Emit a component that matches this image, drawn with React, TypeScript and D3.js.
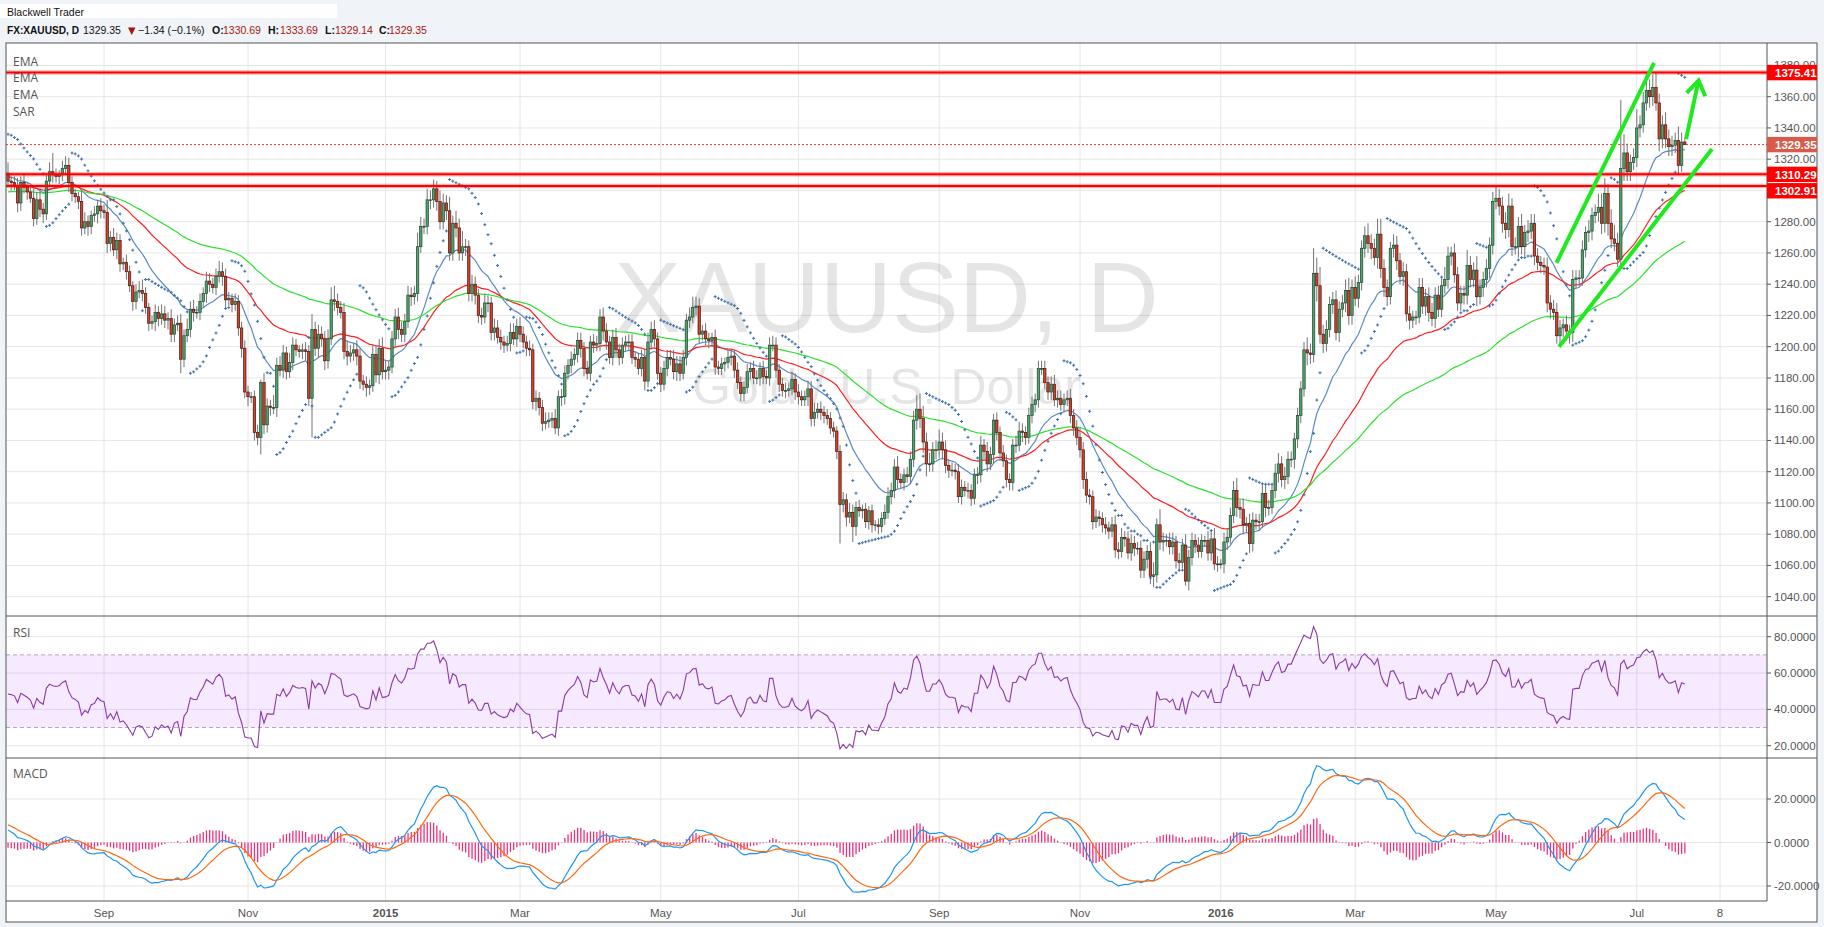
import React from "react";
import * as d3 from "d3";

// ---------- DATA ----------
const firstOpen = 1311;

// daily closes, Jul 21 2014 .. Jul 22 2016 (weekdays)
const closes: number[] = [
  // Jul 2014
  1306,1305,1303,1292,1305,1302,1299,1295,1282,
  // Aug
  1294,1288,1285,1306,1312,1310,1309,1310,1314,1316,1305,1298,1296,1293,1276,1280,1277,1284,1285,1290,1287,
  // Sep
  1286,1266,1270,1262,1268,1253,1254,1248,1239,1229,1235,1236,1234,1225,1215,1216,1222,1218,1221,1217,1218,1208,
  // Oct
  1214,1215,1192,1207,1211,1224,1222,1222,1229,1234,1242,1240,1238,1245,1248,1245,1230,1231,1227,1229,1212,1199,1171,
  // Nov
  1168,1168,1145,1142,1177,1150,1162,1161,1161,1188,1185,1196,1184,1190,1201,1198,1197,1198,1197,1167,
  // Dec
  1211,1199,1208,1205,1191,1205,1230,1229,1225,1222,1197,1194,1196,1198,1194,1178,1176,1174,1175,1195,1182,1199,1184,
  // Jan 2015
  1185,1187,1205,1219,1211,1208,1216,1233,1232,1234,1264,1277,1277,1294,1294,1301,1293,1280,1292,1287,1260,1279,
  // Feb
  1276,1260,1264,1264,1234,1240,1233,1220,1219,1228,1228,1209,1212,1206,1203,1201,1202,1209,1205,1213,
  // Mar
  1208,1203,1199,1198,1165,1167,1161,1151,1152,1153,1154,1148,1168,1168,1183,1188,1192,1195,1204,1199,1186,1183,
  // Apr
  1203,1201,1202,1219,1210,1203,1193,1206,1198,1193,1201,1203,1203,1193,1192,1186,1193,1178,1203,1211,1205,1183,
  // May
  1176,1186,1193,1192,1184,1189,1183,1193,1217,1219,1225,1226,1208,1210,1205,1204,1206,1187,1186,1189,1190,
  // Jun
  1193,1194,1185,1177,1170,1174,1184,1186,1180,1180,1186,1181,1180,1201,1201,1185,1176,1172,1172,1173,1179,1171,
  // Jul
  1168,1166,1168,1173,1154,1158,1160,1158,1156,1154,1148,1146,1133,1099,1102,1091,1094,1085,1097,1095,1096,1088,1095,
  // Aug
  1086,1086,1085,1090,1094,1104,1108,1123,1115,1113,1118,1117,1128,1153,1160,1154,1139,1125,1125,1134,1134,
  // Sep
  1139,1134,1124,1121,1121,1120,1104,1110,1108,1108,1103,1118,1118,1137,1133,1125,1131,1153,1145,1132,1127,1115,
  // Oct
  1113,1137,1137,1146,1145,1142,1156,1163,1166,1186,1186,1177,1171,1176,1166,1167,1163,1166,1167,1156,1148,1142,
  // Nov
  1134,1115,1105,1104,1088,1091,1090,1086,1084,1082,1086,1070,1069,1078,1077,1068,1074,1071,1071,1057,1064,
  // Dec
  1069,1053,1054,1086,1075,1076,1076,1072,1075,1063,1062,1073,1050,1065,1076,1073,1069,1076,1076,1068,1077,1061,1061,
  // Jan 2016
  1061,1075,1078,1092,1108,1097,1096,1086,1087,1074,1089,1088,1088,1106,1097,1097,1108,1119,1125,1115,1117,
  // Feb
  1128,1128,1141,1156,1173,1198,1196,1195,1247,1239,1208,1202,1211,1227,1230,1209,1224,1228,1236,1220,1238,
  // Mar
  1231,1241,1263,1271,1266,1263,1257,1272,1250,1238,1232,1263,1265,1255,1245,1248,1221,1217,1219,1219,1238,1226,1232,
  // Apr
  1222,1218,1233,1224,1239,1243,1258,1260,1246,1228,1234,1233,1252,1243,1249,1232,1238,1243,1250,1265,1293,
  // May
  1295,1290,1279,1275,1290,1264,1264,1277,1264,1273,1274,1279,1258,1254,1252,1251,1228,1224,1222,1207,1212,1214,
  // Jun
  1210,1209,1243,1244,1244,1262,1273,1274,1284,1286,1289,1279,1298,1279,1269,1266,1256,1314,1324,1312,1318,1321,
  // Jul
  1340,1342,1356,1364,1360,1366,1356,1333,1342,1333,1328,1329,1332,1316,1331,1329.35,
];

// upper wick length above the body, per candle
const wickUp: number[] = [
  7,3,4,5,4,6,3,4,6,
  5,6,4,4,6,12,4,3,5,6,5,4,3,3,7,6,4,3,5,4,5,
  4,8,4,6,5,4,3,5,4,3,5,6,7,4,3,4,5,4,6,5,4,6,
  4,5,6,4,7,5,6,4,5,4,6,5,4,5,7,6,5,4,3,5,4,4,5,
  4,3,4,5,2,6,5,4,8,5,6,5,4,6,5,4,3,4,5,4,
  10,5,6,5,5,6,8,9,5,4,6,7,5,4,6,5,4,5,4,6,5,6,7,
  6,4,5,5,6,5,5,6,5,5,9,6,5,7,6,6,5,7,6,5,9,5,
  8,6,10,5,4,6,5,4,5,6,5,4,6,5,5,4,5,6,6,5,
  6,5,4,5,4,5,4,5,6,5,4,6,4,5,5,4,5,4,5,5,4,5,
  4,5,5,5,6,5,4,5,6,4,5,4,5,5,4,4,5,5,6,5,6,4,
  4,5,5,5,6,5,5,5,4,6,7,6,5,4,5,4,3,5,4,4,3,
  5,4,4,5,4,4,5,4,5,5,4,5,4,5,6,5,4,4,5,4,5,4,
  5,4,4,5,5,6,4,5,4,4,4,4,3,4,5,4,6,5,4,5,3,4,3,
  4,3,4,4,5,6,5,5,7,4,4,5,5,6,9,10,8,6,7,5,6,
  8,6,6,4,5,4,5,5,4,5,4,4,5,6,4,6,5,4,5,4,5,4,
  4,4,6,6,5,4,5,5,4,5,5,5,4,5,6,5,5,4,5,6,4,5,
  6,5,5,4,4,5,4,4,5,4,5,6,5,6,4,5,6,5,4,5,5,
  4,6,8,4,10,5,4,5,6,4,5,4,7,5,5,4,5,4,3,6,5,7,5,
  3,6,5,5,6,8,5,7,4,6,5,4,5,6,6,5,4,6,7,5,6,
  5,5,4,5,5,5,8,6,16,10,12,6,6,5,5,6,5,5,7,8,5,
  7,5,5,6,8,6,6,10,10,6,5,4,7,6,5,6,5,5,4,4,6,6,5,
  6,6,5,6,5,8,6,4,6,5,5,5,10,6,5,9,5,5,6,5,6,
  8,6,6,7,8,5,6,6,8,5,7,6,6,5,4,5,6,5,6,6,5,4,
  6,4,6,5,5,6,4,7,5,5,9,9,10,6,9,9,7,44,12,6,5,6,
  12,6,7,11,7,8,9,6,6,8,6,6,5,9,6,2.69,
];

// lower wick length below the body, per candle
const wickDown: number[] = [
  4,5,3,6,5,4,5,3,5,
  4,5,6,4,3,5,4,5,4,4,6,5,4,5,5,4,6,5,4,6,5,
  4,6,5,4,6,5,4,5,4,6,5,4,5,4,5,4,6,5,4,5,6,5,
  5,4,9,5,4,5,6,4,5,4,6,5,4,5,4,6,5,4,5,4,5,6,4,
  6,4,5,5,11,6,5,5,4,6,4,5,5,4,5,4,4,5,6,5,
  25,5,6,5,6,5,4,6,5,4,5,6,4,5,6,5,4,6,5,4,5,6,5,
  5,6,4,5,6,5,5,4,6,5,5,4,5,5,6,5,6,5,5,6,5,5,
  6,5,5,6,5,5,6,5,5,4,6,5,5,4,5,5,4,5,4,5,
  5,4,5,4,5,6,5,5,4,4,5,4,5,6,5,4,5,4,5,6,5,4,
  5,5,4,5,6,5,4,5,5,5,4,4,5,4,5,4,5,6,4,5,5,4,
  5,4,5,4,5,6,5,4,5,5,4,5,6,4,4,5,4,5,4,4,5,
  4,5,5,4,5,5,4,5,4,4,5,5,4,5,4,5,5,4,5,4,4,5,
  5,4,4,6,5,5,4,5,5,4,4,4,5,25,5,6,4,10,6,4,5,4,5,
  5,4,5,4,4,4,5,5,6,4,5,4,5,5,6,6,7,8,5,5,6,
  5,6,5,5,4,5,4,5,4,5,5,4,6,5,5,5,4,6,5,5,4,5,
  5,5,5,4,6,5,4,5,5,5,4,4,5,5,4,5,4,5,4,5,5,5,
  5,6,5,5,5,4,5,5,4,5,4,5,5,4,5,4,5,5,4,5,5,
  6,5,7,5,5,6,4,5,5,5,5,4,3,6,5,5,4,4,4,5,5,4,5,
  3,6,5,4,5,6,6,6,5,6,5,5,6,4,6,5,4,5,6,5,6,
  5,5,6,6,5,5,8,6,5,10,6,6,5,5,6,5,6,5,6,6,6,
  5,6,5,6,6,7,5,7,6,6,6,5,6,6,5,6,5,6,5,5,4,5,6,
  6,5,6,5,5,5,6,6,5,5,5,6,6,5,5,6,5,6,5,6,6,
  5,6,6,6,5,6,5,7,5,6,6,5,6,5,5,5,6,6,5,5,6,6,
  6,7,6,6,5,5,5,6,6,5,6,7,6,8,6,5,5,6,8,6,6,5,
  6,6,5,5,7,6,5,8,6,6,6,6,5,6,4,0.21,
];

// time axis
const tickLabels = ["Sep", "Nov", "2015", "Mar", "May", "Jul", "Sep", "Nov", "2016", "Mar", "May", "Jul", "8"];
const tickIndex = [30, 75, 118, 160, 204, 247, 291, 335, 379, 421, 465, 509, 535];

const priceTicks = d3.range(1040, 1381, 20);
const rsiTicks = [20, 40, 60, 80];
const macdTicks = [-20, 0, 20];

const levelLines = [1375.41, 1310.29, 1302.91];
const lastPrice = 1329.35;

const emaPeriods = [20, 50, 100];
const emaSeeds = [1309, 1303, 1299];
const emaColors = ["#5a8bc4", "#ff1f1f", "#2ee02e"];

// hand-drawn annotations: [bar index, price]
const trendUpper: [number, number][] = [[483.9, 1253.6], [514.4, 1381.6]];
const trendLower: [number, number][] = [[484.7, 1200], [532.5, 1326.5]];
const arrowShaft: [number, number][] = [[524.4, 1332.9], [528.3, 1370.4]];
const arrowHead: [number, number][] = [[524.6, 1362.5], [528.3, 1370.4], [530.4, 1360.3]];

// ---------- LAYOUT ----------
const W = 1824, H = 927;
const L = 6, R = 1767, AX = 1817;
const TOP = 43, S1 = 616, S2 = 758, S3 = 901, BOT = 922;

const x = d3.scaleLinear().domain([0, 549.6875]).range([8, R]);
const yP = d3.scaleLinear().domain([1040, 1360]).range([596.7, 96.7]);
const yR = d3.scaleLinear().domain([20, 80]).range([745.7, 636.7]);
const yM = d3.scaleLinear().domain([-20, 20]).range([886, 799]);

// ---------- DERIVED ----------
const candles = closes.map((c, i) => {
  const o = i === 0 ? firstOpen : closes[i - 1];
  const h = Math.max(o, c) + (wickUp[i] ?? 4);
  const l = Math.min(o, c) - (wickDown[i] ?? 4);
  return { i, o, h, l, c };
});

function ema(vals: number[], n: number, seed: number) {
  const k = 2 / (n + 1);
  let e = seed;
  return vals.map((v) => (e = v * k + e * (1 - k)));
}

function psar() {
  let up = false, sar = 1336, ep = candles[0].l, af = 0.02;
  const out = [sar];
  for (let i = 1; i < candles.length; i++) {
    const cd = candles[i];
    const p1 = candles[i - 1];
    const p2 = i > 1 ? candles[i - 2] : p1;
    let s = sar + af * (ep - sar);
    if (up) {
      s = Math.min(s, p1.l, p2.l);
      if (cd.l < s) { up = false; s = ep; ep = cd.l; af = 0.02; }
      else if (cd.h > ep) { ep = cd.h; af = Math.min(af + 0.02, 0.2); }
    } else {
      s = Math.max(s, p1.h, p2.h);
      if (cd.h > s) { up = true; s = ep; ep = cd.h; af = 0.02; }
      else if (cd.l < ep) { ep = cd.l; af = Math.min(af + 0.02, 0.2); }
    }
    sar = s;
    out.push(s);
  }
  return out;
}

function rsi() {
  let ag = 6, al = 6;
  return closes.map((c, i) => {
    const prev = i === 0 ? firstOpen : closes[i - 1];
    const ch = c - prev;
    ag = (ag * 13 + Math.max(ch, 0)) / 14;
    al = (al * 13 + Math.max(-ch, 0)) / 14;
    return 100 - 100 / (1 + ag / al);
  });
}

const emas = emaPeriods.map((n, k) => ema(closes, n, emaSeeds[k]));
const sars = psar();
const rsis = rsi();
const e12 = ema(closes, 12, 1312);
const e26 = ema(closes, 26, 1305.3);
const macd = e12.map((v, i) => v - e26[i]);
const signal = ema(macd, 9, 8.7);
const hist = macd.map((v, i) => v - signal[i]);

const FONT = "'Liberation Sans', Arial, sans-serif";
const AXC = "#555";
const GRID = "#e6e6e6";

function lineOf(vals: number[], y: d3.ScaleLinear<number, number>) {
  return d3.line<number>().x((_, i) => x(i)).y((v) => y(v))(vals) || "";
}

function ptLine(pts: [number, number][]) {
  return d3.line<[number, number]>().x((p) => x(p[0])).y((p) => yP(p[1]))(pts) || "";
}

export default function App() {
  const upFill = "#52a06f", upBorder = "#1f4a2e";
  const dnFill = "#cc4330", dnBorder = "#4f150d";

  // right-axis labels for horizontal levels with simple collision avoidance
  const boxH = 15.4;
  const boxes = [...levelLines.map((v) => ({ v, kind: "level" })), { v: lastPrice, kind: "last" }]
    .map((b) => ({ ...b, cy: yP(b.v) }))
    .sort((a, b) => a.cy - b.cy);
  for (let k = 1; k < boxes.length; k++) {
    const prev = boxes[k - 1];
    if (boxes[k].cy - prev.cy < boxH + 1) boxes[k].cy = prev.cy + boxH + 1;
  }
  const boxTop = boxes.length ? boxes[0].cy - boxH / 2 : 0;

  return (
    <svg width={W} height={H} style={{ position: "absolute", left: 0, top: 0, display: "block" }} fontFamily={FONT}>
      <defs>
        <clipPath id="cpP"><rect x={L} y={TOP} width={R - L} height={S1 - TOP} /></clipPath>
        <clipPath id="cpR"><rect x={L} y={S1} width={R - L} height={S2 - S1} /></clipPath>
        <clipPath id="cpM"><rect x={L} y={S2} width={R - L} height={S3 - S2} /></clipPath>
        <clipPath id="cpTopLabel"><rect x={R} y={TOP} width={AX - R} height={boxTop - TOP} /></clipPath>
      </defs>
      <rect x={0} y={0} width={W} height={H} fill="#f0f3f7" />
      <rect x={0} y={4} width={337} height={14} fill="#fff" />
      <text x={7} y={15.5} fontSize={10.5} fill="#111">Blackwell Trader</text>
      <g fontSize={10.5} fill="#111">
        <text x={7} y={34} fontWeight="bold" textLength={72} lengthAdjust="spacingAndGlyphs">FX:XAUUSD, D</text>
        <text x={83} y={34}>1329.35</text>
        <path d="M128,27.5 L135.5,27.5 L131.75,35 Z" fill="#a3120c" />
        <text x={138} y={34}>−1.34 (−0.1%)</text>
        <text x={212} y={34} fontWeight="bold">O:</text>
        <text x={223} y={34} fill="#a8170f">1330.69</text>
        <text x={268} y={34} fontWeight="bold">H:</text>
        <text x={280} y={34} fill="#a8170f">1333.69</text>
        <text x={325} y={34} fontWeight="bold">L:</text>
        <text x={335} y={34} fill="#a8170f">1329.14</text>
        <text x={379} y={34} fontWeight="bold">C:</text>
        <text x={389} y={34} fill="#a8170f">1329.35</text>
      </g>

      <rect x={L} y={TOP} width={AX - L} height={BOT - TOP} fill="#fff" />

      {/* grids */}
      <g stroke={GRID} strokeWidth={1}>
        {priceTicks.map((t) => <line key={"pg" + t} x1={L} x2={R} y1={yP(t)} y2={yP(t)} />)}
        {rsiTicks.map((t) => <line key={"rg" + t} x1={L} x2={R} y1={yR(t)} y2={yR(t)} />)}
        {macdTicks.map((t) => <line key={"mg" + t} x1={L} x2={R} y1={yM(t)} y2={yM(t)} />)}
        {tickIndex.map((t, k) => <line key={"vg" + k} x1={x(t)} x2={x(t)} y1={TOP} y2={S3} />)}
      </g>

      {/* watermark */}
      <g fill="#000" fillOpacity={0.1} textAnchor="middle">
        <text x={886.5} y={331.5} fontSize={100}>XAUUSD, D</text>
        <text x={886.5} y={404} fontSize={50}>Gold / U.S. Dollar</text>
      </g>

      {/* price pane */}
      <g clipPath="url(#cpP)">
        <line x1={L} x2={R} y1={yP(lastPrice)} y2={yP(lastPrice)} stroke="#e8402c" strokeWidth={1} strokeDasharray="2,2" />
        {emas.map((e, k) => (
          <path key={"ema" + k} d={lineOf(e, yP)} fill="none" stroke={emaColors[k]} strokeWidth={1.2} />
        ))}
        {candles.map((cd) => (
          <line key={"w" + cd.i} x1={x(cd.i)} x2={x(cd.i)} y1={yP(cd.h)} y2={yP(cd.l)} stroke="#737375" strokeWidth={1} />
        ))}
        {candles.map((cd) => {
          const up = cd.c >= cd.o;
          const y0 = yP(Math.max(cd.o, cd.c));
          const y1 = yP(Math.min(cd.o, cd.c));
          return (
            <rect key={"b" + cd.i} x={x(cd.i) - 1.2} y={y0} width={2.4} height={Math.max(0.8, y1 - y0)}
              fill={up ? upFill : dnFill} stroke={up ? upBorder : dnBorder} strokeWidth={0.7} />
          );
        })}
        <g stroke="#3d6fa9" strokeWidth={1}>
          {sars.map((s, i) => (
            <path key={"s" + i} d={`M${x(i) - 1.5},${yP(s)}h3M${x(i)},${yP(s) - 1.5}v3`} />
          ))}
        </g>
        {levelLines.map((v) => (
          <g key={"lv" + v}>
            <line x1={L} x2={R} y1={yP(v)} y2={yP(v)} stroke="#ff0000" strokeOpacity={0.3} strokeWidth={4.5} />
            <line x1={L} x2={R} y1={yP(v)} y2={yP(v)} stroke="#ff0000" strokeWidth={2} />
          </g>
        ))}
        <g stroke="#1fea1f" strokeWidth={4} fill="none" strokeLinecap="butt">
          <path d={ptLine(trendUpper)} />
          <path d={ptLine(trendLower)} />
          <path d={ptLine(arrowShaft)} />
          <path d={ptLine(arrowHead)} strokeLinejoin="miter" />
        </g>
      </g>

      {/* legend */}
      <g fontSize={12} fill="#555" fontFamily="'Open Sans', Arial, sans-serif">
        <text x={13} y={65.5}>EMA</text>
        <text x={13} y={82}>EMA</text>
        <text x={13} y={99}>EMA</text>
        <text x={13} y={115.5}>SAR</text>
        <text x={13} y={637}>RSI</text>
        <text x={13} y={778}>MACD</text>
      </g>

      {/* RSI pane */}
      <g clipPath="url(#cpR)">
        <rect x={L} y={yR(70)} width={R - L} height={yR(30) - yR(70)} fill="#9b30ff" fillOpacity={0.1} />
        <line x1={L} x2={R} y1={yR(70)} y2={yR(70)} stroke="#b9a0c4" strokeDasharray="4,3" />
        <line x1={L} x2={R} y1={yR(30)} y2={yR(30)} stroke="#b9a0c4" strokeDasharray="4,3" />
        <path d={lineOf(rsis, yR)} fill="none" stroke="#8b3aa6" strokeWidth={1.1} />
      </g>

      {/* MACD pane */}
      <g clipPath="url(#cpM)">
        {hist.map((h, i) => (
          <rect key={"h" + i} x={x(i) - 0.6} y={yM(Math.max(h, 0))} width={1.3}
            height={Math.max(0.3, Math.abs(yM(h) - yM(0)))} fill="#f2307a" />
        ))}
        <path d={lineOf(macd, yM)} fill="none" stroke="#1e96f0" strokeWidth={1.2} />
        <path d={lineOf(signal, yM)} fill="none" stroke="#ff6a10" strokeWidth={1.2} />
      </g>

      {/* frames */}
      <g stroke={AXC} strokeWidth={1} fill="none">
        <rect x={L} y={TOP} width={AX - L} height={BOT - TOP} />
        <line x1={L} x2={AX} y1={S1} y2={S1} />
        <line x1={L} x2={AX} y1={S2} y2={S2} />
        <line x1={L} x2={R} y1={S3} y2={S3} />
        <line x1={R} x2={R} y1={TOP} y2={S3} />
      </g>

      {/* axes labels */}
      <g fontSize={11.5} fill={AXC}>
        {priceTicks.map((t) => {
          const yy = yP(t);
          const hidden = yy + 4 > boxTop && yy - 9 < boxTop + boxH && yy < boxTop + boxH;
          return (
            <g key={"pt" + t} clipPath={hidden ? "url(#cpTopLabel)" : undefined}>
              <line x1={R} x2={R + 4} y1={yy} y2={yy} stroke={AXC} />
              <text x={1774} y={yy + 4}>{t.toFixed(2)}</text>
            </g>
          );
        })}
        {rsiTicks.map((t) => (
          <g key={"rt" + t}>
            <line x1={R} x2={R + 4} y1={yR(t)} y2={yR(t)} stroke={AXC} />
            <text x={1774} y={yR(t) + 4}>{t.toFixed(4)}</text>
          </g>
        ))}
        {macdTicks.map((t) => (
          <g key={"mt" + t}>
            <line x1={R} x2={R + 4} y1={yM(t)} y2={yM(t)} stroke={AXC} />
            <text x={1774} y={yM(t) + 4}>{t.toFixed(4)}</text>
          </g>
        ))}
        {tickLabels.map((lab, k) => (
          <text key={"tl" + k} x={x(tickIndex[k])} y={917} textAnchor="middle"
            fontWeight={/^\d{4}$/.test(lab) ? "bold" : "normal"}>{lab}</text>
        ))}
      </g>

      {/* level boxes */}
      {boxes.map((b) => (
        <g key={"bx" + b.v}>
          <rect x={R} y={b.cy - boxH / 2} width={AX - R} height={boxH} fill={b.kind === "last" ? "#d95a48" : "#ff0000"} />
          <text x={1775} y={b.cy + 4.2} fontSize={11.5} fontWeight="bold" fill="#fff">{b.v.toFixed(2)}</text>
        </g>
      ))}
    </svg>
  );
}
